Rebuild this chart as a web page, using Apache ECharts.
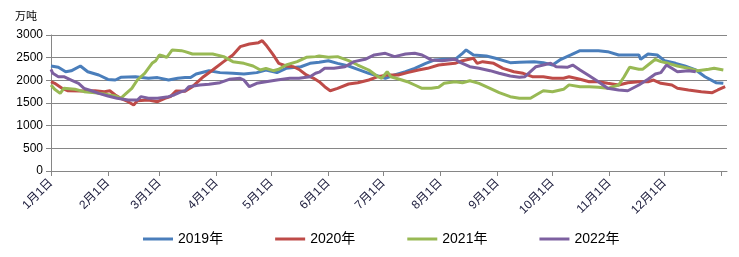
<!DOCTYPE html>
<html>
<head>
<meta charset="utf-8">
<script src="https://cdn.jsdelivr.net/npm/echarts@6/dist/echarts.min.js"></script>
<style>html,body{margin:0;padding:0;background:#fff;}#c{width:739px;height:257px;}</style>
</head>
<body>
<div id="c"></div>
<script>
const monthStarts = [0,31,59,90,120,151,181,212,243,273,304,334];
const monthLabels = ['1月1日','2月1日','3月1日','4月1日','5月1日','6月1日','7月1日','8月1日','9月1日','10月1日','11月1日','12月1日'];
const yTicks = [0,500,1000,1500,2000,2500,3000];
const seriesNames = ['2019年','2020年','2021年','2022年'];

const days2019 = [0,4,8,11,16,20,26,31,35,38,46,53,58,64,69,73,76,79,86,92,99,105,112,117,123,128,136,141,146,151,156,162,167,173,178,182,187,193,198,204,209,214,220,224,226,230,237,242,250,255,263,268,273,277,283,288,293,298,303,309,314,320,321,325,330,334,340,345,351,356,362,366];
const vals2019 = [2316,2290,2190,2210,2316,2190,2118,2020,2007,2067,2080,2045,2060,2007,2045,2060,2060,2140,2213,2170,2155,2140,2170,2228,2170,2265,2300,2375,2400,2433,2375,2316,2243,2155,2096,2045,2118,2190,2265,2375,2450,2464,2464,2596,2670,2560,2537,2486,2390,2400,2412,2390,2338,2450,2560,2655,2655,2655,2633,2560,2560,2560,2464,2580,2560,2433,2375,2316,2228,2080,1948,1934];

const days2020 = [0,2,6,9,16,24,29,32,35,38,42,45,47,53,58,62,65,68,73,77,83,88,94,99,103,108,113,115,117,121,124,128,132,135,139,143,146,149,152,156,162,167,173,178,183,189,194,200,205,211,216,220,224,230,232,235,241,246,252,257,262,268,273,279,282,288,293,298,303,309,314,320,325,328,332,338,341,347,354,360,363,367];
const vals2020 = [1970,1934,1824,1771,1765,1771,1750,1771,1677,1604,1529,1456,1551,1566,1529,1604,1640,1765,1760,1860,2080,2228,2412,2560,2743,2802,2831,2875,2780,2560,2375,2316,2300,2243,2118,2045,1970,1860,1771,1824,1919,1948,2007,2080,2118,2118,2170,2228,2265,2338,2360,2375,2433,2486,2375,2412,2375,2265,2190,2155,2080,2080,2045,2045,2080,2023,1970,1970,1934,1897,1948,1970,1970,2007,1934,1897,1824,1787,1750,1728,1787,1860];

const days2021 = [0,2,5,7,13,18,24,29,35,38,40,44,47,51,55,57,59,61,63,66,71,73,77,83,88,94,99,105,110,114,117,121,124,128,134,139,144,146,151,156,162,167,173,178,180,183,185,191,194,198,202,207,211,214,220,224,228,233,239,244,250,255,261,264,268,273,279,282,288,293,298,303,309,312,315,320,322,325,329,332,336,341,347,352,358,361,366];
const vals2021 = [1897,1802,1713,1824,1802,1750,1728,1699,1655,1604,1677,1824,2007,2155,2375,2433,2560,2537,2508,2670,2655,2633,2580,2580,2580,2523,2412,2375,2316,2228,2265,2213,2243,2338,2412,2508,2523,2537,2508,2523,2433,2338,2228,2080,2045,2190,2080,2007,1970,1897,1824,1824,1846,1934,1970,1948,1992,1934,1824,1728,1640,1604,1604,1677,1771,1750,1802,1900,1860,1860,1846,1824,1897,2080,2287,2243,2243,2338,2464,2412,2375,2316,2265,2213,2243,2265,2228];

const days2022 = [0,1,4,7,11,15,18,22,26,31,36,42,47,49,53,58,64,67,71,73,75,81,86,92,97,103,105,108,112,117,123,130,135,141,144,146,149,154,160,165,171,176,182,187,193,198,202,207,213,220,223,228,233,239,244,250,255,258,261,264,268,272,275,281,284,288,293,298,303,309,314,320,325,329,332,335,338,341,347,351];
const vals2022 = [2243,2155,2080,2080,2007,1934,1824,1771,1713,1655,1604,1566,1566,1640,1604,1604,1640,1677,1750,1770,1860,1897,1912,1948,2023,2045,2007,1860,1934,1970,2007,2045,2045,2080,2155,2180,2265,2265,2300,2412,2464,2560,2596,2523,2580,2596,2560,2450,2433,2464,2390,2300,2265,2213,2155,2096,2067,2080,2190,2300,2338,2375,2300,2287,2338,2228,2100,1970,1824,1787,1771,1897,2023,2140,2170,2338,2265,2190,2213,2190];

const colors = ['#4A7EBB','#BE4B48','#98B954','#7D60A0'];
const dayLists = [days2019,days2020,days2021,days2022];
const valLists = [vals2019,vals2020,vals2021,vals2022];

const font = '"Liberation Sans", Arial, sans-serif';
const cjkFont = '"Liberation Sans", "Noto Sans CJK SC", sans-serif';
const chart = echarts.init(document.getElementById('c'), null, {renderer:'canvas'});
chart.setOption({
  animation: false,
  color: colors,
  graphic: [{type:'text', left: 15, top: 10, style:{text:'万吨', fontSize: 11, fill:'#000', fontFamily:'"Noto Sans CJK SC", sans-serif'}}],
  legend: {
    bottom: 6, left: 138,
    itemWidth: 30, itemHeight: 3, itemGap: 52,
    icon: 'rect',
    textStyle: {fontSize: 14, color:'#000', fontFamily: cjkFont},
    data: seriesNames
  },
  grid: {left: 51, right: 12, top: 35, bottom: 86, containLabel: false},
  xAxis: {
    type: 'value', min: 0, max: 368,
    axisLine: {show: true, lineStyle: {color: '#868686', width: 1}},
    axisTick: {show: true, length: 5, lineStyle:{color:'#868686'}, customValues: monthStarts.concat([365])},
    axisLabel: {
      customValues: monthStarts,
      rotate: 45, fontSize: 12, color: '#1a1a3a', fontFamily: cjkFont, margin: 10,
      formatter: function(v){ const i = monthStarts.indexOf(Math.round(v)); return i>=0 ? monthLabels[i] : ''; }
    },
    splitLine: {show: false}
  },
  yAxis: {
    type: 'value', min: 0, max: 3000, interval: 500,
    axisLine: {show: true, lineStyle: {color: '#868686'}},
    axisTick: {show: true, length: 5, lineStyle:{color:'#868686'}},
    axisLabel: {fontSize: 12, color: '#000', fontFamily: font, margin: 8, formatter: function(v){ return String(v); }},
    splitLine: {show: true, lineStyle: {color: '#868686', width: 1}}
  },
  series: seriesNames.map((n, k) => ({
    name: n, type: 'line', symbol: 'none',
    lineStyle: {width: 3, color: colors[k]},
    itemStyle: {color: colors[k]},
    data: dayLists[k].map((d, i) => [d, valLists[k][i]])
  }))
});
</script>
</body>
</html>
